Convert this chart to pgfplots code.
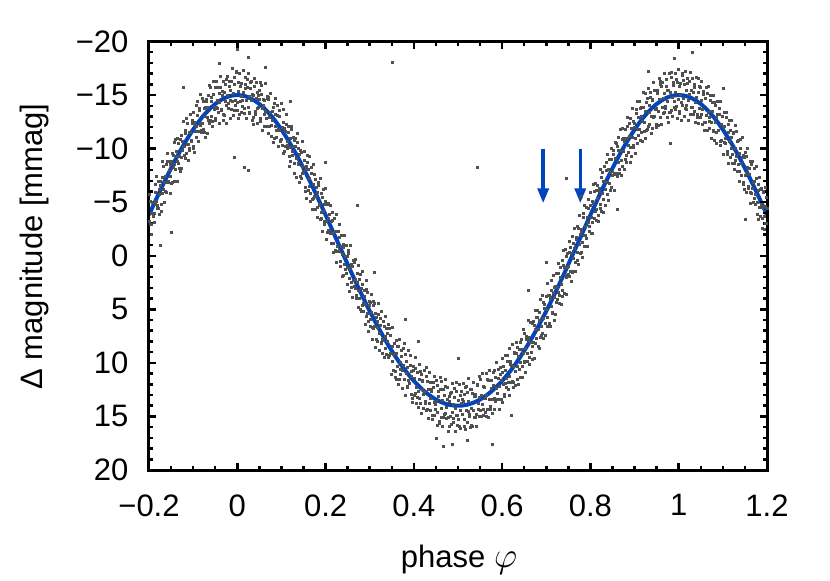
\documentclass[border=0pt]{standalone}
\usepackage{fontspec}
\setmainfont{Liberation Sans}
\usepackage{graphicx}
\usepackage{pgfplots}
\pgfplotsset{compat=1.18}
\usetikzlibrary{arrows.meta}
\definecolor{fitblue}{RGB}{0,68,190}
\definecolor{ptgray}{RGB}{80,80,80}
\begin{document}
\fontsize{31bp}{37bp}\selectfont
\begin{tikzpicture}
\begin{axis}[
  width=618bp, height=428.5bp, scale only axis,
  xmin=-0.2, xmax=1.2, ymin=-20, ymax=20, y dir=reverse,
  axis on top,
  xtick={-0.2,0,0.2,0.4,0.6,0.8,1,1.2},
  xticklabels={−0.2,0,0.2,0.4,0.6,0.8,1,1.2},
  ytick={-20,-15,-10,-5,0,5,10,15,20},
  yticklabels={−20,−15,−10,−5,0,5,10,15,20},
  minor x tick num=3, minor y tick num=4,
  tick align=inside, major tick length=7bp, minor tick length=4bp,
  every tick/.style={black, line width=2.5bp},
  axis line style={line width=3bp},
  xticklabel style={yshift=-14bp},
  yticklabel style={xshift=-10bp},
  xlabel={phase \scalebox{1.45}{$\varphi$}},
  ylabel={Δ magnitude [mmag]},
  xlabel style={at={(axis description cs:0.5016,-0.2264)}, anchor=base},
  ylabel style={at={(axis description cs:-0.1731,0.5216)}, anchor=base, rotate=0},
]
\addplot[only marks, mark=square*, mark size=1bp, ptgray, mark options={draw=none}] coordinates {
(-0.200,-3.2)(-0.198,-5.1)(-0.196,-4.0)(-0.194,-2.9)(-0.192,-5.0)
(-0.190,-5.0)(-0.188,-4.0)(-0.186,-6.7)(-0.184,-5.1)(-0.182,-4.7)
(-0.180,-4.4)(-0.178,-6.2)(-0.176,-5.7)(-0.174,-7.0)(-0.172,-4.2)
(-0.170,-7.3)(-0.168,-6.2)(-0.166,-6.9)(-0.164,-6.0)(-0.162,-8.5)
(-0.160,-6.9)(-0.158,-8.8)(-0.156,-6.9)(-0.154,-8.0)(-0.152,-7.4)
(-0.150,-8.8)(-0.148,-6.9)(-0.146,-9.4)(-0.144,-8.5)(-0.142,-10.6)
(-0.140,-8.1)(-0.138,-9.3)(-0.136,-8.8)(-0.134,-10.5)(-0.132,-9.3)
(-0.130,-10.9)(-0.128,-9.2)(-0.126,-8.2)(-0.124,-10.7)(-0.122,-10.2)
(-0.120,-10.2)(-0.118,-11.4)(-0.116,-9.6)(-0.114,-12.4)(-0.112,-10.4)
(-0.110,-11.5)(-0.108,-9.9)(-0.106,-11.5)(-0.104,-10.7)(-0.102,-12.7)
(-0.100,-10.2)(-0.098,-12.5)(-0.096,-11.6)(-0.094,-14.1)(-0.092,-12.1)
(-0.090,-13.1)(-0.088,-11.6)(-0.086,-13.8)(-0.084,-12.4)(-0.082,-11.7)
(-0.080,-12.4)(-0.078,-14.4)(-0.076,-13.0)(-0.074,-11.5)(-0.072,-13.9)
(-0.070,-14.4)(-0.068,-12.9)(-0.066,-13.9)(-0.064,-12.4)(-0.062,-15.7)
(-0.060,-13.0)(-0.058,-14.4)(-0.056,-12.6)(-0.054,-15.1)(-0.052,-13.9)
(-0.050,-15.7)(-0.048,-13.9)(-0.046,-14.5)(-0.044,-13.4)(-0.042,-15.2)
(-0.040,-14.3)(-0.038,-15.7)(-0.036,-13.7)(-0.034,-15.0)(-0.032,-13.2)
(-0.030,-15.3)(-0.028,-14.4)(-0.026,-16.5)(-0.024,-14.1)(-0.022,-15.0)
(-0.020,-13.8)(-0.018,-15.8)(-0.016,-14.5)(-0.014,-16.3)(-0.012,-14.4)
(-0.010,-15.2)(-0.008,-13.6)(-0.006,-16.0)(-0.004,-14.5)(-0.002,-17.2)
(0.000,-14.3)(0.002,-15.4)(0.004,-13.2)(0.006,-15.8)(0.008,-14.9)
(0.010,-16.1)(0.012,-14.5)(0.014,-15.3)(0.016,-13.8)(0.018,-15.6)
(0.020,-14.5)(0.022,-16.5)(0.024,-13.9)(0.026,-14.9)(0.028,-13.3)
(0.030,-15.6)(0.032,-14.5)(0.034,-15.1)(0.036,-12.9)(0.038,-15.8)
(0.040,-13.5)(0.042,-14.7)(0.044,-13.8)(0.046,-15.3)(0.048,-13.9)
(0.050,-14.6)(0.052,-12.8)(0.054,-15.9)(0.056,-13.8)(0.058,-14.6)
(0.060,-13.2)(0.062,-14.5)(0.064,-13.5)(0.066,-12.1)(0.068,-14.7)
(0.070,-14.8)(0.072,-12.9)(0.074,-13.4)(0.076,-12.2)(0.078,-13.5)
(0.080,-12.7)(0.082,-13.9)(0.084,-11.0)(0.086,-13.2)(0.088,-11.7)
(0.090,-13.1)(0.092,-11.8)(0.094,-13.6)(0.096,-11.7)(0.098,-10.7)
(0.100,-10.9)(0.102,-12.0)(0.104,-12.5)(0.106,-9.8)(0.108,-11.6)
(0.110,-12.3)(0.112,-10.3)(0.114,-10.7)(0.116,-11.5)(0.118,-9.3)
(0.120,-10.1)(0.122,-11.8)(0.124,-9.4)(0.126,-10.2)(0.128,-10.8)
(0.130,-8.6)(0.132,-10.2)(0.134,-9.1)(0.136,-10.6)(0.138,-8.6)
(0.140,-9.5)(0.142,-7.4)(0.144,-9.7)(0.146,-8.4)(0.148,-7.7)
(0.150,-7.9)(0.152,-8.9)(0.154,-6.0)(0.156,-8.1)(0.158,-8.7)
(0.160,-8.1)(0.162,-6.5)(0.164,-7.2)(0.166,-5.8)(0.168,-8.3)
(0.170,-5.3)(0.172,-6.7)(0.174,-5.6)(0.176,-7.1)(0.178,-5.6)
(0.180,-5.9)(0.182,-4.5)(0.184,-6.6)(0.186,-4.7)(0.188,-3.4)
(0.190,-4.1)(0.192,-5.5)(0.194,-4.2)(0.196,-4.8)(0.198,-2.9)
(0.200,-5.1)(0.202,-3.2)(0.204,-2.2)(0.206,-3.5)(0.208,-3.9)
(0.210,-2.1)(0.212,-3.2)(0.214,-4.1)(0.216,-2.1)(0.218,-1.2)
(0.220,-2.2)(0.222,-0.5)(0.224,-2.3)(0.226,-0.9)(0.228,-2.3)
(0.230,-0.5)(0.232,-1.7)(0.234,1.0)(0.236,-0.9)(0.238,-0.1)
(0.240,-1.1)(0.242,0.8)(0.244,0.0)(0.246,1.6)(0.248,0.0)
(0.250,1.1)(0.252,-0.2)(0.254,2.1)(0.256,1.2)(0.258,2.9)
(0.260,1.0)(0.262,2.3)(0.264,0.6)(0.266,3.0)(0.268,2.2)
(0.270,3.7)(0.272,2.5)(0.274,3.2)(0.276,2.2)(0.278,5.0)
(0.280,3.0)(0.282,4.6)(0.284,2.7)(0.286,4.4)(0.288,3.8)
(0.290,4.5)(0.292,3.1)(0.294,5.4)(0.296,6.1)(0.298,4.2)
(0.300,4.3)(0.302,5.9)(0.304,5.3)(0.306,6.7)(0.308,4.2)
(0.310,6.6)(0.312,5.4)(0.314,7.8)(0.316,6.1)(0.318,6.7)
(0.320,5.5)(0.322,7.2)(0.324,6.5)(0.326,8.1)(0.328,9.1)
(0.330,7.9)(0.332,6.6)(0.334,8.6)(0.336,7.5)(0.338,6.8)
(0.340,8.0)(0.342,9.5)(0.344,6.8)(0.346,9.1)(0.348,9.1)
(0.350,9.8)(0.352,8.4)(0.354,9.2)(0.356,8.2)(0.358,10.8)
(0.360,9.1)(0.362,10.3)(0.364,8.4)(0.366,11.5)(0.368,9.9)
(0.370,11.1)(0.372,9.4)(0.374,10.7)(0.376,10.2)(0.378,11.5)
(0.380,9.2)(0.382,11.0)(0.384,12.2)(0.386,10.4)(0.388,11.6)
(0.390,11.9)(0.392,10.2)(0.394,11.2)(0.396,13.3)(0.398,10.7)
(0.400,11.4)(0.402,12.8)(0.404,10.5)(0.406,12.3)(0.408,13.2)
(0.410,12.6)(0.412,11.5)(0.414,13.8)(0.416,11.1)(0.418,12.5)
(0.420,11.6)(0.422,12.9)(0.424,12.6)(0.426,13.8)(0.428,11.2)
(0.430,14.3)(0.432,12.5)(0.434,13.8)(0.436,11.8)(0.438,13.3)
(0.440,12.6)(0.442,14.9)(0.444,12.3)(0.446,13.7)(0.448,14.3)
(0.450,13.6)(0.452,12.1)(0.454,14.6)(0.456,13.1)(0.458,15.6)
(0.460,12.5)(0.462,14.2)(0.464,13.5)(0.466,15.1)(0.468,13.0)
(0.470,14.7)(0.472,12.2)(0.474,14.1)(0.476,13.4)(0.478,15.1)
(0.480,13.6)(0.482,15.0)(0.484,12.7)(0.486,14.6)(0.488,13.9)
(0.490,15.5)(0.492,13.2)(0.494,14.2)(0.496,12.6)(0.498,14.9)
(0.500,13.5)(0.502,15.9)(0.504,13.0)(0.506,14.4)(0.508,13.8)
(0.510,14.8)(0.512,13.6)(0.514,15.3)(0.516,12.3)(0.518,14.4)
(0.520,12.7)(0.522,14.5)(0.524,13.6)(0.526,14.8)(0.528,16.0)
(0.530,14.2)(0.532,12.8)(0.534,14.4)(0.536,13.1)(0.538,15.1)
(0.540,12.9)(0.542,14.8)(0.544,12.0)(0.546,13.8)(0.548,13.2)
(0.550,14.4)(0.552,13.0)(0.554,13.9)(0.556,12.2)(0.558,14.9)
(0.560,12.3)(0.562,13.3)(0.564,13.0)(0.566,14.3)(0.568,11.6)
(0.570,13.4)(0.572,11.6)(0.574,14.3)(0.576,12.4)(0.578,13.4)
(0.580,12.1)(0.582,13.3)(0.584,11.3)(0.586,12.4)(0.588,13.4)
(0.590,13.4)(0.592,11.4)(0.594,12.2)(0.596,10.4)(0.598,11.6)
(0.600,10.9)(0.602,12.0)(0.604,12.9)(0.606,10.7)(0.608,11.9)
(0.610,11.4)(0.612,9.8)(0.614,11.8)(0.616,11.2)(0.618,9.8)
(0.620,10.2)(0.622,11.7)(0.624,10.3)(0.626,11.8)(0.628,9.0)
(0.630,10.8)(0.632,9.1)(0.634,10.3)(0.636,9.4)(0.638,10.6)
(0.640,8.1)(0.642,9.9)(0.644,8.7)(0.646,10.3)(0.648,9.1)
(0.650,9.8)(0.652,8.6)(0.654,7.5)(0.656,9.1)(0.658,7.6)
(0.660,7.9)(0.662,9.5)(0.664,8.1)(0.666,6.2)(0.668,8.4)
(0.670,8.1)(0.672,6.5)(0.674,8.2)(0.676,6.9)(0.678,5.7)
(0.680,5.7)(0.682,6.9)(0.684,6.0)(0.686,7.6)(0.688,6.6)
(0.690,7.2)(0.692,4.3)(0.694,5.8)(0.696,4.9)(0.698,6.3)
(0.700,5.0)(0.702,5.7)(0.704,3.7)(0.706,6.3)(0.708,4.0)
(0.710,4.7)(0.712,3.2)(0.714,5.3)(0.716,3.5)(0.718,3.9)
(0.720,2.8)(0.722,4.3)(0.724,2.9)(0.726,1.6)(0.728,3.4)
(0.730,3.7)(0.732,2.0)(0.734,2.7)(0.736,3.8)(0.738,0.9)
(0.740,1.1)(0.742,1.8)(0.744,0.0)(0.746,2.0)(0.748,1.1)
(0.750,1.0)(0.752,-0.3)(0.754,1.4)(0.756,-0.2)(0.758,1.5)
(0.760,-1.2)(0.762,0.2)(0.764,-0.7)(0.766,0.6)(0.768,-1.5)
(0.770,-0.3)(0.772,-2.6)(0.774,-1.1)(0.776,-2.0)(0.778,-0.3)
(0.780,-2.3)(0.782,-1.3)(0.784,-4.0)(0.786,-1.9)(0.788,-2.8)
(0.790,-1.6)(0.792,-3.6)(0.794,-3.1)(0.796,-4.4)(0.798,-2.8)
(0.800,-4.7)(0.802,-3.6)(0.804,-3.1)(0.806,-4.9)(0.808,-6.0)
(0.810,-4.2)(0.812,-6.1)(0.814,-4.3)(0.816,-5.4)(0.818,-3.8)
(0.820,-6.0)(0.822,-4.8)(0.824,-7.3)(0.826,-5.8)(0.828,-7.0)
(0.830,-5.3)(0.832,-7.0)(0.834,-6.2)(0.836,-8.7)(0.838,-6.9)
(0.840,-8.1)(0.842,-6.8)(0.844,-7.8)(0.846,-6.4)(0.848,-9.0)
(0.850,-7.9)(0.852,-9.9)(0.854,-7.6)(0.856,-9.1)(0.858,-7.7)
(0.860,-10.2)(0.862,-8.7)(0.864,-9.9)(0.866,-7.7)(0.868,-9.9)
(0.870,-8.9)(0.872,-10.9)(0.874,-9.8)(0.876,-10.7)(0.878,-9.0)
(0.880,-11.0)(0.882,-9.4)(0.884,-12.1)(0.886,-10.3)(0.888,-11.2)
(0.890,-10.1)(0.892,-11.9)(0.894,-11.1)(0.896,-12.6)(0.898,-10.1)
(0.900,-12.0)(0.902,-11.0)(0.904,-13.7)(0.906,-11.8)(0.908,-12.9)
(0.910,-11.8)(0.912,-13.8)(0.914,-11.5)(0.916,-13.0)(0.918,-12.6)
(0.920,-13.9)(0.922,-12.5)(0.924,-13.5)(0.926,-11.7)(0.928,-14.7)
(0.930,-12.1)(0.932,-14.1)(0.934,-13.4)(0.936,-14.8)(0.938,-13.0)
(0.940,-14.5)(0.942,-12.9)(0.944,-15.5)(0.946,-13.7)(0.948,-12.3)
(0.950,-13.8)(0.952,-15.2)(0.954,-13.5)(0.956,-14.6)(0.958,-16.0)
(0.960,-15.8)(0.962,-13.9)(0.964,-14.7)(0.966,-13.4)(0.968,-15.2)
(0.970,-13.8)(0.972,-15.8)(0.974,-14.4)(0.976,-15.5)(0.978,-13.4)
(0.980,-15.3)(0.982,-13.6)(0.984,-16.7)(0.986,-14.8)(0.988,-15.9)
(0.990,-14.4)(0.992,-15.3)(0.994,-14.0)(0.996,-16.2)(0.998,-14.6)
(1.000,-15.8)(1.002,-13.5)(1.004,-15.1)(1.006,-14.3)(1.008,-17.0)
(1.010,-14.7)(1.012,-16.0)(1.014,-13.8)(1.016,-15.5)(1.018,-14.1)
(1.020,-16.1)(1.022,-14.5)(1.024,-15.1)(1.026,-13.2)(1.028,-15.5)
(1.030,-13.9)(1.032,-15.3)(1.034,-13.5)(1.036,-16.0)(1.038,-14.3)
(1.040,-14.8)(1.042,-13.2)(1.044,-15.3)(1.046,-13.8)(1.048,-15.7)
(1.050,-13.2)(1.052,-14.5)(1.054,-13.7)(1.056,-15.1)(1.058,-12.5)
(1.060,-14.7)(1.062,-13.1)(1.064,-15.2)(1.066,-13.4)(1.068,-12.6)
(1.070,-12.9)(1.072,-14.5)(1.074,-12.5)(1.076,-13.5)(1.078,-11.7)
(1.080,-14.3)(1.082,-12.5)(1.084,-12.9)(1.086,-11.5)(1.088,-13.2)
(1.090,-11.7)(1.092,-13.2)(1.094,-10.7)(1.096,-12.3)(1.098,-13.0)
(1.100,-12.0)(1.102,-10.6)(1.104,-12.1)(1.106,-11.0)(1.108,-12.9)
(1.110,-9.8)(1.112,-11.5)(1.114,-10.7)(1.116,-11.7)(1.118,-10.0)
(1.120,-11.1)(1.122,-9.5)(1.124,-11.5)(1.126,-8.6)(1.128,-10.0)
(1.130,-9.3)(1.132,-10.7)(1.134,-8.5)(1.136,-9.6)(1.138,-7.9)
(1.140,-10.0)(1.142,-8.6)(1.144,-9.2)(1.146,-6.9)(1.148,-9.2)
(1.150,-7.5)(1.152,-9.3)(1.154,-7.7)(1.156,-8.3)(1.158,-6.5)
(1.160,-7.6)(1.162,-5.9)(1.164,-8.5)(1.166,-6.3)(1.168,-6.9)
(1.170,-5.4)(1.172,-7.0)(1.174,-5.7)(1.176,-7.2)(1.178,-5.0)
(1.180,-6.1)(1.182,-4.5)(1.184,-6.2)(1.186,-4.8)(1.188,-3.5)
(1.190,-4.5)(1.192,-5.9)(1.194,-3.7)(1.196,-4.6)(1.198,-3.0)
(1.200,-4.4)
(0.000,-19.3)(0.025,-18.5)(0.015,-8.3)(0.025,-8.0)(-0.008,-9.2)(-0.123,-15.7)
(0.272,-4.7)(0.746,-7.2)(0.350,-18.1)(0.543,-8.3)(0.500,9.6)(0.466,17.8)
(0.486,17.6)(0.577,17.6)(-0.175,-1.0)(0.064,-17.6)(-0.040,-18.0)(0.990,-18.4)
(1.030,-19.0)(0.930,-17.2)(1.100,-15.6)(0.200,-8.7)(0.310,1.5)(0.380,5.9)
(0.620,14.9)(0.660,3.2)(0.780,-5.6)(0.860,-4.3)(1.150,-3.4)(0.450,17.0)
(0.520,17.2)(0.120,-14.4)(0.980,-10.5)(-0.150,-2.2)(0.410,8.0)(0.700,0.6)
};
\addplot[only marks, mark=square*, mark size=1bp, ptgray, mark options={draw=none}] coordinates {
(-0.199,-5.7)(-0.197,-2.9)(-0.195,-2.0)(-0.193,-5.0)(-0.191,-3.7)
(-0.189,-3.1)(-0.187,-5.9)(-0.185,-4.8)(-0.183,-7.4)(-0.181,-4.4)
(-0.179,-7.0)(-0.177,-3.9)(-0.175,-6.6)(-0.173,-4.8)(-0.171,-8.8)
(-0.169,-5.8)(-0.167,-8.4)(-0.165,-5.0)(-0.163,-7.4)(-0.161,-5.9)
(-0.159,-9.6)(-0.157,-7.0)(-0.155,-8.8)(-0.153,-5.8)(-0.151,-8.5)
(-0.149,-6.8)(-0.147,-9.6)(-0.145,-8.3)(-0.143,-7.0)(-0.141,-10.9)
(-0.139,-9.8)(-0.137,-7.0)(-0.135,-11.0)(-0.133,-8.6)(-0.131,-8.2)
(-0.129,-7.9)(-0.127,-11.3)(-0.125,-9.9)(-0.123,-12.6)(-0.121,-9.4)
(-0.119,-11.7)(-0.117,-9.1)(-0.115,-12.8)(-0.113,-10.4)(-0.111,-8.9)
(-0.109,-10.0)(-0.107,-13.2)(-0.105,-10.8)(-0.103,-12.4)(-0.101,-10.0)
(-0.099,-13.4)(-0.097,-9.7)(-0.095,-12.3)(-0.093,-11.1)(-0.091,-14.4)
(-0.089,-10.7)(-0.087,-13.6)(-0.085,-15.1)(-0.083,-12.2)(-0.081,-11.5)
(-0.079,-14.7)(-0.077,-11.8)(-0.075,-13.8)(-0.073,-11.1)(-0.071,-14.6)
(-0.069,-11.4)(-0.067,-15.0)(-0.065,-12.7)(-0.063,-15.9)(-0.061,-12.7)
(-0.059,-14.8)(-0.057,-12.1)(-0.055,-16.3)(-0.053,-13.7)(-0.051,-12.7)
(-0.049,-12.8)(-0.047,-16.3)(-0.045,-13.8)(-0.043,-15.7)(-0.041,-12.4)
(-0.039,-16.8)(-0.037,-13.6)(-0.035,-15.4)(-0.033,-12.7)(-0.031,-16.3)
(-0.029,-13.1)(-0.027,-16.0)(-0.025,-12.4)(-0.023,-16.8)(-0.021,-14.2)
(-0.019,-16.3)(-0.017,-12.8)(-0.015,-15.5)(-0.013,-13.7)(-0.011,-17.5)
(-0.009,-13.1)(-0.007,-16.7)(-0.005,-14.1)(-0.003,-17.1)(-0.001,-13.6)
(0.001,-16.2)(0.003,-12.8)(0.005,-17.0)(0.007,-14.4)(0.009,-13.4)
(0.011,-14.0)(0.013,-17.3)(0.015,-13.3)(0.017,-16.0)(0.019,-16.7)
(0.021,-12.8)(0.023,-15.7)(0.025,-17.0)(0.027,-13.4)(0.029,-16.2)
(0.031,-16.3)(0.033,-12.7)(0.035,-15.0)(0.037,-12.3)(0.039,-16.6)
(0.041,-13.2)(0.043,-16.2)(0.045,-12.4)(0.047,-15.0)(0.049,-15.5)
(0.051,-16.2)(0.053,-12.6)(0.055,-15.1)(0.057,-11.7)(0.059,-14.1)
(0.061,-12.1)(0.063,-16.1)(0.065,-12.8)(0.067,-14.9)(0.069,-11.4)
(0.071,-14.6)(0.073,-12.1)(0.075,-15.2)(0.077,-11.2)(0.079,-13.5)
(0.081,-10.6)(0.083,-14.2)(0.085,-12.1)(0.087,-14.7)(0.089,-11.1)
(0.091,-14.1)(0.093,-10.2)(0.095,-13.0)(0.097,-10.8)(0.099,-14.2)
(0.101,-10.3)(0.103,-13.7)(0.105,-9.6)(0.107,-11.9)(0.109,-10.2)
(0.111,-13.2)(0.113,-10.0)(0.115,-12.1)(0.117,-8.4)(0.119,-11.0)
(0.121,-8.8)(0.123,-12.1)(0.125,-9.8)(0.127,-11.1)(0.129,-7.7)
(0.131,-11.0)(0.133,-7.3)(0.135,-11.4)(0.137,-8.5)(0.139,-10.0)
(0.141,-6.9)(0.143,-9.9)(0.145,-7.2)(0.147,-10.7)(0.149,-7.8)
(0.151,-9.8)(0.153,-6.4)(0.155,-8.4)(0.157,-5.4)(0.159,-9.4)
(0.161,-6.1)(0.163,-9.3)(0.165,-5.1)(0.167,-7.7)(0.169,-4.3)
(0.171,-8.5)(0.173,-5.4)(0.175,-7.6)(0.177,-4.3)(0.179,-6.4)
(0.181,-3.6)(0.183,-6.9)(0.185,-4.8)(0.187,-7.2)(0.189,-3.5)
(0.191,-5.8)(0.193,-2.3)(0.195,-6.2)(0.197,-3.2)(0.199,-6.3)
(0.201,-1.5)(0.203,-4.8)(0.205,-2.4)(0.207,-4.9)(0.209,-2.4)
(0.211,-4.7)(0.213,-1.2)(0.215,-3.3)(0.217,-0.3)(0.219,-3.5)
(0.221,-0.4)(0.223,-3.9)(0.225,0.6)(0.227,-2.3)(0.229,-0.4)
(0.231,-2.9)(0.233,0.5)(0.235,-1.9)(0.237,1.9)(0.239,-0.8)
(0.241,1.8)(0.243,-1.9)(0.245,1.3)(0.247,-1.0)(0.249,2.7)
(0.251,-0.5)(0.253,3.3)(0.255,-1.0)(0.257,2.5)(0.259,0.8)
(0.261,3.9)(0.263,0.4)(0.265,2.8)(0.267,0.3)(0.269,4.0)
(0.271,1.6)(0.273,4.8)(0.275,0.9)(0.277,4.0)(0.279,1.7)
(0.281,5.2)(0.283,1.4)(0.285,5.2)(0.287,3.2)(0.289,6.4)
(0.291,2.3)(0.293,5.6)(0.295,3.4)(0.297,7.0)(0.299,4.6)
(0.301,6.6)(0.303,3.6)(0.305,7.8)(0.307,4.6)(0.309,6.8)
(0.311,4.4)(0.313,8.5)(0.315,5.7)(0.317,8.0)(0.319,4.4)
(0.321,8.8)(0.323,5.8)(0.325,8.2)(0.327,5.2)(0.329,7.8)
(0.331,6.1)(0.333,9.5)(0.335,5.6)(0.337,9.2)(0.339,7.2)
(0.341,9.5)(0.343,6.4)(0.345,9.3)(0.347,7.4)(0.349,11.1)
(0.351,6.7)(0.353,10.7)(0.355,8.2)(0.357,11.3)(0.359,7.9)
(0.361,11.5)(0.363,8.4)(0.365,12.0)(0.367,7.8)(0.369,10.6)
(0.371,8.8)(0.373,12.4)(0.375,8.6)(0.377,11.5)(0.379,8.2)
(0.381,13.0)(0.383,9.8)(0.385,12.3)(0.387,8.8)(0.389,11.9)
(0.391,9.3)(0.393,12.9)(0.395,10.8)(0.397,13.7)(0.399,10.3)
(0.401,13.0)(0.403,9.5)(0.405,13.8)(0.407,10.9)(0.409,14.1)
(0.411,10.1)(0.413,13.3)(0.415,10.8)(0.417,14.7)(0.419,11.7)
(0.421,14.2)(0.423,10.7)(0.425,13.6)(0.427,10.4)(0.429,14.4)
(0.431,11.7)(0.433,15.2)(0.435,10.9)(0.437,14.4)(0.439,12.5)
(0.441,15.3)(0.443,11.8)(0.445,14.9)(0.447,11.2)(0.449,13.9)
(0.451,11.6)(0.453,15.8)(0.455,12.6)(0.457,15.4)(0.459,11.3)
(0.461,15.1)(0.463,11.7)(0.465,15.9)(0.467,12.5)(0.469,14.8)
(0.471,11.5)(0.473,15.2)(0.475,12.3)(0.477,16.4)(0.479,13.1)
(0.481,15.9)(0.483,12.8)(0.485,15.7)(0.487,11.9)(0.489,15.2)
(0.491,12.4)(0.493,16.4)(0.495,11.8)(0.497,14.9)(0.499,15.8)
(0.501,15.3)(0.503,12.0)(0.505,16.1)(0.507,12.6)(0.509,13.4)
(0.511,11.9)(0.513,15.9)(0.515,12.9)(0.517,16.2)(0.519,12.2)
(0.521,15.5)(0.523,11.4)(0.525,15.0)(0.527,12.5)(0.529,15.8)
(0.531,12.5)(0.533,15.9)(0.535,11.8)(0.537,15.1)(0.539,13.1)
(0.541,15.9)(0.543,12.1)(0.545,14.3)(0.547,11.2)(0.549,15.0)
(0.551,11.5)(0.553,15.0)(0.555,11.0)(0.557,14.3)(0.559,12.3)
(0.561,14.6)(0.563,11.0)(0.565,15.0)(0.567,11.5)(0.569,15.1)
(0.571,10.7)(0.573,14.0)(0.575,11.6)(0.577,14.7)(0.579,10.9)
(0.581,14.3)(0.583,10.7)(0.585,13.6)(0.587,9.9)(0.589,12.8)
(0.591,10.6)(0.593,14.3)(0.595,11.1)(0.597,13.4)(0.599,9.6)
(0.601,13.7)(0.603,10.3)(0.605,13.1)(0.607,9.3)(0.609,12.3)
(0.611,9.3)(0.613,12.5)(0.615,8.6)(0.617,13.0)(0.619,10.1)
(0.621,11.8)(0.623,8.3)(0.625,12.3)(0.627,9.1)(0.629,12.1)
(0.631,8.1)(0.633,11.5)(0.635,8.5)(0.637,12.0)(0.639,8.7)
(0.641,11.3)(0.643,7.8)(0.645,11.3)(0.647,6.9)(0.649,9.9)
(0.651,7.2)(0.653,10.9)(0.655,7.8)(0.657,9.8)(0.659,6.0)
(0.661,10.1)(0.663,6.2)(0.665,9.0)(0.667,6.3)(0.669,9.7)
(0.671,6.1)(0.673,9.6)(0.675,5.1)(0.677,7.7)(0.679,5.1)
(0.681,8.4)(0.683,5.3)(0.685,8.6)(0.687,4.1)(0.689,7.4)
(0.691,3.7)(0.693,7.7)(0.695,4.5)(0.697,7.4)(0.699,3.8)
(0.701,6.6)(0.703,2.6)(0.705,6.6)(0.707,3.7)(0.709,6.6)
(0.711,2.3)(0.713,5.4)(0.715,1.8)(0.717,6.0)(0.719,2.9)
(0.721,5.5)(0.723,1.6)(0.725,4.1)(0.727,0.7)(0.729,4.4)
(0.731,1.1)(0.733,4.5)(0.735,0.4)(0.737,3.2)(0.739,-0.5)
(0.741,3.5)(0.743,-0.6)(0.745,3.6)(0.747,-0.2)(0.749,1.7)
(0.751,-1.4)(0.753,1.9)(0.755,-0.8)(0.757,2.4)(0.759,-1.8)
(0.761,1.4)(0.763,-2.6)(0.765,1.4)(0.767,-1.7)(0.769,0.4)
(0.771,-2.8)(0.773,0.8)(0.775,-3.8)(0.777,-0.2)(0.779,-2.5)
(0.781,0.1)(0.783,-3.6)(0.785,-0.9)(0.787,-4.7)(0.789,-1.9)
(0.791,-4.5)(0.793,-0.9)(0.795,-5.3)(0.797,-2.3)(0.799,-5.9)
(0.801,-2.1)(0.803,-5.1)(0.805,-2.1)(0.807,-6.7)(0.809,-3.5)
(0.811,-6.8)(0.813,-3.3)(0.815,-6.6)(0.817,-3.2)(0.819,-6.3)
(0.821,-4.4)(0.823,-8.1)(0.825,-4.2)(0.827,-7.8)(0.829,-4.1)
(0.831,-8.4)(0.833,-4.7)(0.835,-8.0)(0.837,-5.7)(0.839,-9.5)
(0.841,-5.2)(0.843,-9.0)(0.845,-6.1)(0.847,-10.0)(0.849,-7.5)
(0.851,-9.5)(0.853,-6.1)(0.855,-10.6)(0.857,-7.7)(0.859,-10.5)
(0.861,-7.4)(0.863,-11.1)(0.865,-8.1)(0.867,-11.8)(0.869,-7.5)
(0.871,-11.9)(0.873,-8.4)(0.875,-11.0)(0.877,-8.1)(0.879,-11.8)
(0.881,-8.7)(0.883,-12.9)(0.885,-9.7)(0.887,-12.4)(0.889,-8.7)
(0.891,-12.8)(0.893,-9.3)(0.895,-13.8)(0.897,-10.3)(0.899,-12.4)
(0.901,-9.6)(0.903,-13.3)(0.905,-10.5)(0.907,-14.4)(0.909,-11.3)
(0.911,-14.4)(0.913,-10.8)(0.915,-13.9)(0.917,-10.7)(0.919,-15.3)
(0.921,-11.6)(0.923,-15.2)(0.925,-11.0)(0.927,-14.3)(0.929,-11.8)
(0.931,-15.6)(0.933,-12.3)(0.935,-15.3)(0.937,-11.4)(0.939,-14.6)
(0.941,-11.9)(0.943,-16.2)(0.945,-13.0)(0.947,-15.5)(0.949,-12.0)
(0.951,-15.5)(0.953,-12.2)(0.955,-16.6)(0.957,-12.9)(0.959,-16.3)
(0.961,-12.3)(0.963,-16.2)(0.965,-13.3)(0.967,-17.0)(0.969,-14.0)
(0.971,-16.5)(0.973,-12.9)(0.975,-15.5)(0.977,-12.5)(0.979,-17.0)
(0.981,-13.4)(0.983,-17.1)(0.985,-13.0)(0.987,-16.2)(0.989,-13.9)
(0.991,-17.0)(0.993,-13.7)(0.995,-16.5)(0.997,-12.8)(0.999,-17.4)
(1.001,-13.3)(1.003,-16.1)(1.005,-12.7)(1.007,-16.9)(1.009,-14.1)
(1.011,-16.4)(1.013,-13.0)(1.015,-17.2)(1.017,-13.7)(1.019,-16.6)
(1.021,-12.7)(1.023,-16.3)(1.025,-13.2)(1.027,-17.1)(1.029,-13.9)
(1.031,-16.6)(1.033,-13.2)(1.035,-15.7)(1.037,-12.5)(1.039,-16.7)
(1.041,-12.9)(1.043,-16.6)(1.045,-12.4)(1.047,-15.8)(1.049,-12.9)
(1.051,-16.3)(1.053,-12.3)(1.055,-15.4)(1.057,-11.7)(1.059,-14.7)
(1.061,-12.5)(1.063,-15.7)(1.065,-11.7)(1.067,-15.8)(1.069,-11.9)
(1.071,-15.0)(1.073,-11.0)(1.075,-14.3)(1.077,-11.6)(1.079,-15.0)
(1.081,-10.8)(1.083,-14.1)(1.085,-10.5)(1.087,-14.4)(1.089,-11.7)
(1.091,-13.8)(1.093,-10.3)(1.095,-14.4)(1.097,-10.8)(1.099,-13.0)
(1.101,-9.5)(1.103,-13.4)(1.105,-10.5)(1.107,-13.4)(1.109,-9.5)
(1.111,-12.3)(1.113,-8.6)(1.115,-12.7)(1.117,-9.2)(1.119,-12.7)
(1.121,-8.6)(1.123,-11.4)(1.125,-8.1)(1.127,-12.2)(1.129,-8.9)
(1.131,-11.6)(1.133,-7.9)(1.135,-10.8)(1.137,-7.0)(1.139,-10.9)
(1.141,-7.5)(1.143,-11.1)(1.145,-6.7)(1.147,-9.4)(1.149,-6.2)
(1.151,-9.7)(1.153,-5.9)(1.155,-10.0)(1.157,-6.3)(1.159,-8.2)
(1.161,-4.9)(1.163,-8.8)(1.165,-5.8)(1.167,-8.8)(1.169,-5.0)
(1.171,-8.2)(1.173,-4.8)(1.175,-8.4)(1.177,-3.9)(1.179,-6.7)
(1.181,-3.4)(1.183,-7.3)(1.185,-3.7)(1.187,-6.3)(1.189,-2.6)
(1.191,-6.0)(1.193,-2.5)(1.195,-6.4)(1.197,-3.0)(1.199,-5.5)
};
\addplot[fitblue, line width=4bp, no marks] coordinates {
(-0.20,-3.81)(-0.19,-4.71)(-0.18,-5.61)(-0.17,-6.49)(-0.16,-7.34)(-0.15,-8.17)(-0.14,-8.97)
(-0.13,-9.74)(-0.12,-10.46)(-0.11,-11.14)(-0.10,-11.78)(-0.09,-12.37)(-0.08,-12.91)(-0.07,-13.38)
(-0.06,-13.81)(-0.05,-14.17)(-0.04,-14.46)(-0.03,-14.70)(-0.02,-14.87)(-0.01,-14.97)(0.00,-15.00)
(0.01,-14.97)(0.02,-14.87)(0.03,-14.70)(0.04,-14.46)(0.05,-14.17)(0.06,-13.81)(0.07,-13.38)
(0.08,-12.91)(0.09,-12.37)(0.10,-11.78)(0.11,-11.14)(0.12,-10.46)(0.13,-9.74)(0.14,-8.97)
(0.15,-8.17)(0.16,-7.34)(0.17,-6.49)(0.18,-5.61)(0.19,-4.71)(0.20,-3.81)(0.21,-2.89)
(0.22,-1.96)(0.23,-1.04)(0.24,-0.12)(0.25,0.80)(0.26,1.71)(0.27,2.60)(0.28,3.47)
(0.29,4.33)(0.30,5.16)(0.31,5.96)(0.32,6.74)(0.33,7.48)(0.34,8.20)(0.35,8.87)
(0.36,9.51)(0.37,10.12)(0.38,10.68)(0.39,11.20)(0.40,11.68)(0.41,12.12)(0.42,12.51)
(0.43,12.86)(0.44,13.16)(0.45,13.42)(0.46,13.63)(0.47,13.79)(0.48,13.91)(0.49,13.98)
(0.50,14.00)(0.51,13.98)(0.52,13.91)(0.53,13.79)(0.54,13.63)(0.55,13.42)(0.56,13.16)
(0.57,12.86)(0.58,12.51)(0.59,12.12)(0.60,11.68)(0.61,11.20)(0.62,10.68)(0.63,10.12)
(0.64,9.51)(0.65,8.87)(0.66,8.20)(0.67,7.48)(0.68,6.74)(0.69,5.96)(0.70,5.16)
(0.71,4.33)(0.72,3.47)(0.73,2.60)(0.74,1.71)(0.75,0.80)(0.76,-0.12)(0.77,-1.04)
(0.78,-1.96)(0.79,-2.89)(0.80,-3.81)(0.81,-4.71)(0.82,-5.61)(0.83,-6.49)(0.84,-7.34)
(0.85,-8.17)(0.86,-8.97)(0.87,-9.74)(0.88,-10.46)(0.89,-11.14)(0.90,-11.78)(0.91,-12.37)
(0.92,-12.91)(0.93,-13.38)(0.94,-13.81)(0.95,-14.17)(0.96,-14.46)(0.97,-14.70)(0.98,-14.87)
(0.99,-14.97)(1.00,-15.00)(1.01,-14.97)(1.02,-14.87)(1.03,-14.70)(1.04,-14.46)(1.05,-14.17)
(1.06,-13.81)(1.07,-13.38)(1.08,-12.91)(1.09,-12.37)(1.10,-11.78)(1.11,-11.14)(1.12,-10.46)
(1.13,-9.74)(1.14,-8.97)(1.15,-8.17)(1.16,-7.34)(1.17,-6.49)(1.18,-5.61)(1.19,-4.71)(1.20,-3.81)
};
\draw[fitblue, line width=3.5bp, -{Triangle[length=15bp,width=11bp]}] (axis cs:0.693,-10) -- (axis cs:0.693,-4.9);
\draw[fitblue, line width=3.5bp, -{Triangle[length=15bp,width=11bp]}] (axis cs:0.777,-10) -- (axis cs:0.777,-4.9);
\end{axis}
\pgfresetboundingbox
\path[use as bounding box] ([shift={(-149bp,-111bp)}]current axis.south west) rectangle ([shift={(63bp,41.5bp)}]current axis.north east);
\end{tikzpicture}
\end{document}
